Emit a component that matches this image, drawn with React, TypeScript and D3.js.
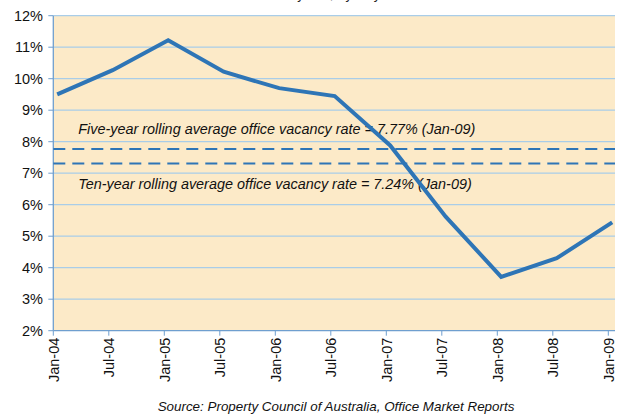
import React from "react";
import * as d3 from "d3";

const categories = ["Jan-04","Jul-04","Jan-05","Jul-05","Jan-06","Jul-06","Jan-07","Jul-07","Jan-08","Jul-08","Jan-09"];
const vacancy = [9.5, 10.27, 11.22, 10.22, 9.7, 9.45, 7.88, 5.62, 3.71, 4.3, 5.44];
const fiveYearAvg = 7.77;
const tenYearAvg = 7.31;
const yTicks = [2,3,4,5,6,7,8,9,10,11,12];
const fiveLabel = "Five-year rolling average office vacancy rate = 7.77% (Jan-09)";
const tenLabel = "Ten-year rolling average office vacancy rate = 7.24% (Jan-09)";
const sourceLabel = "Source: Property Council of Australia, Office Market Reports";
const titleLabel = "Office vacancy rate, Sydney CBD";

const W = 617, H = 414;
const left = 53.3, right = 615, top = 15.7, bottom = 330.7;
const tickRight = 608.3;
const FONT = "'Liberation Sans', Arial, sans-serif";

export default function App() {
  const x = d3.scaleLinear().domain([0, categories.length - 1]).range([left, tickRight]);
  const y = d3.scaleLinear().domain([2, 12]).range([bottom, top]);
  const pointOffset = 0.07;
  const line = d3.line<number>().x((_, i) => x(i + pointOffset)).y(d => y(d));
  const textStart = x(0.45);

  return (
    <svg width={W} height={H} style={{ position: "absolute", left: 0, top: 0, background: "#fff" }} fontFamily={FONT}>
      <text x={315} y={-1} textAnchor="middle" fontSize={13} fill="#222">{titleLabel}</text>
      <rect x={left} y={top} width={right - left} height={bottom - top} fill="#FCEAC8" />
      {yTicks.map(t => (
        <g key={t}>
          {t !== 2 && <line x1={left} x2={right} y1={y(t)} y2={y(t)} stroke="#A9CDE8" strokeWidth={1.2} />}
          <line x1={left - 5} x2={left} y1={y(t)} y2={y(t)} stroke="#6F9FCF" strokeWidth={1} />
          <text x={43} y={y(t)} dy="0.36em" textAnchor="end" fontSize={14.5} fill="#111">{t}%</text>
        </g>
      ))}
      <line x1={left} x2={left} y1={top} y2={bottom} stroke="#6F9FCF" strokeWidth={1.3} />
      <line x1={left} x2={right} y1={bottom} y2={bottom} stroke="#6F9FCF" strokeWidth={1.3} />
      {categories.map((c, i) => (
        <g key={c}>
          <line x1={x(i)} x2={x(i)} y1={bottom} y2={bottom + 5} stroke="#6F9FCF" strokeWidth={1} />
          <text transform={`translate(${x(i)},${bottom + 7}) rotate(-90)`} dy="0.36em" textAnchor="end" fontSize={14.5} fill="#111">{c}</text>
        </g>
      ))}
      <line x1={left} x2={right} y1={y(fiveYearAvg)} y2={y(fiveYearAvg)} stroke="#2E75B6" strokeWidth={1.9} strokeDasharray="12,7" />
      <line x1={left} x2={right} y1={y(tenYearAvg)} y2={y(tenYearAvg)} stroke="#2E75B6" strokeWidth={1.9} strokeDasharray="12,7" />
      <text x={textStart} y={y(fiveYearAvg) - 15} fontSize={14.4} fontStyle="italic" fill="#111">{fiveLabel}</text>
      <text x={textStart} y={y(tenYearAvg) + 26} fontSize={14.4} fontStyle="italic" fill="#111">{tenLabel}</text>
      <path d={line(vacancy) || ""} fill="none" stroke="#2E75B6" strokeWidth={4} strokeLinejoin="miter" />
      <text x={336} y={411} textAnchor="middle" fontSize={13.4} fontStyle="italic" fill="#111">{sourceLabel}</text>
    </svg>
  );
}
